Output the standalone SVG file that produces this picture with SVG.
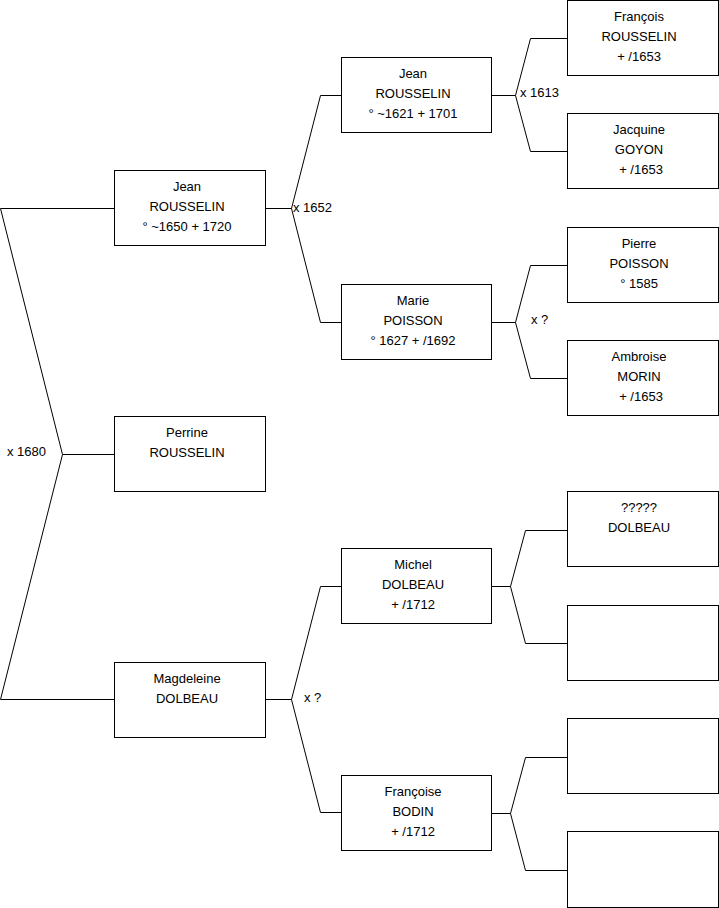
<svg xmlns="http://www.w3.org/2000/svg" width="719" height="908" viewBox="0 0 719 908">
<style>
.box rect{fill:#fff;stroke:#000;stroke-width:1}
text{font-family:"Liberation Sans",Arial,sans-serif;font-size:13px;fill:#000}
.box text{text-anchor:middle}
.conn path{fill:none;stroke:#000;stroke-width:1}
</style>
<rect width="719" height="908" fill="#fff"/>
<g class="conn">
<path d="M0.5,208.5H114.5M0.5,208.5L62.5,454.5L0.5,699.5M62.5,454.5H114.5M0.5,699.5H114.5"/>
<path d="M265.5,208.5H291.5M320.5,95.5L291.5,208.5L320.5,322.5M320.5,95.5H341.5M320.5,322.5H341.5"/>
<path d="M265.5,699.5H291.5M320.5,586.5L291.5,699.5L320.5,812.5M320.5,586.5H341.5M320.5,812.5H341.5"/>
<path d="M491.5,95.5H515.5M530.5,38.5L515.5,95.5L530.5,151.5M530.5,38.5H567.5M530.5,151.5H567.5"/>
<path d="M491.5,322.5H515.5M530.5,265.5L515.5,322.5L530.5,378.5M530.5,265.5H567.5M530.5,378.5H567.5"/>
<path d="M491.5,586.5H510.5M525.5,530.5L510.5,586.5L525.5,643.5M525.5,530.5H567.5M525.5,643.5H567.5"/>
<path d="M491.5,813.5H510.5M525.5,757.5L510.5,813.5L525.5,870.5M525.5,757.5H567.5M525.5,870.5H567.5"/>
<text x="7" y="456">x 1680</text>
<text x="293" y="212">x 1652</text>
<text x="520" y="97">x 1613</text>
<text x="531" y="324">x ?</text>
<text x="304" y="702">x ?</text>
</g>
<g id="n-jean-1650" class="box"><rect x="114.5" y="170.5" width="151" height="75"/><text x="187" y="191">Jean</text><text x="187" y="211">ROUSSELIN</text><text x="187" y="231">° ~1650 + 1720</text></g>
<g id="n-perrine" class="box"><rect x="114.5" y="416.5" width="151" height="75"/><text x="187" y="437">Perrine</text><text x="187" y="457">ROUSSELIN</text></g>
<g id="n-magdeleine" class="box"><rect x="114.5" y="662.5" width="151" height="75"/><text x="187" y="683">Magdeleine</text><text x="187" y="703">DOLBEAU</text></g>
<g id="n-jean-1621" class="box"><rect x="341.5" y="57.5" width="150" height="75"/><text x="413" y="78">Jean</text><text x="413" y="98">ROUSSELIN</text><text x="413" y="118">° ~1621 + 1701</text></g>
<g id="n-marie" class="box"><rect x="341.5" y="284.5" width="150" height="75"/><text x="413" y="305">Marie</text><text x="413" y="325">POISSON</text><text x="413" y="345">° 1627 + /1692</text></g>
<g id="n-michel" class="box"><rect x="341.5" y="548.5" width="150" height="75"/><text x="413" y="569">Michel</text><text x="413" y="589">DOLBEAU</text><text x="413" y="609">+ /1712</text></g>
<g id="n-francoise" class="box"><rect x="341.5" y="775.5" width="150" height="75"/><text x="413" y="796">Françoise</text><text x="413" y="816">BODIN</text><text x="413" y="836">+ /1712</text></g>
<g id="n-francois" class="box"><rect x="567.5" y="0.5" width="151" height="75"/><text x="639" y="21">François</text><text x="639" y="41">ROUSSELIN</text><text x="639" y="61">+ /1653</text></g>
<g id="n-jacquine" class="box"><rect x="567.5" y="113.5" width="151" height="75"/><text x="639" y="134">Jacquine</text><text x="639" y="154">GOYON</text><text x="641" y="174">+ /1653</text></g>
<g id="n-pierre" class="box"><rect x="567.5" y="227.5" width="151" height="75"/><text x="639" y="248">Pierre</text><text x="639" y="268">POISSON</text><text x="639" y="288">° 1585</text></g>
<g id="n-ambroise" class="box"><rect x="567.5" y="340.5" width="151" height="75"/><text x="639" y="361">Ambroise</text><text x="639" y="381">MORIN</text><text x="641" y="401">+ /1653</text></g>
<g id="n-dolbeau" class="box"><rect x="567.5" y="491.5" width="151" height="75"/><text x="639" y="512">?????</text><text x="639" y="532">DOLBEAU</text></g>
<g id="n-empty1" class="box"><rect x="567.5" y="605.5" width="151" height="75"/></g>
<g id="n-empty2" class="box"><rect x="567.5" y="718.5" width="151" height="75"/></g>
<g id="n-empty3" class="box"><rect x="567.5" y="831.5" width="151" height="76"/></g>
</svg>
